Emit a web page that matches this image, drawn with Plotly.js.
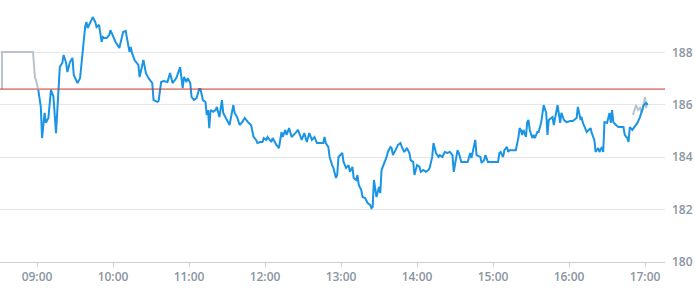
<!DOCTYPE html>
<html>
<head>
<meta charset="utf-8">
<script src="https://cdn.plot.ly/plotly-3.0.1.min.js"></script>
<style>html,body{margin:0;padding:0;background:#fff;}#chart{width:695px;height:300px;}</style>
</head>
<body>
<div id="chart"></div>
<script>
var DAY = '2024-01-02 ';
var prevClose = 186.6;

var preTimes = ['08:32:20','08:32:25','08:56:50','08:58:25','08:59:13','09:00:47'];
var preValues = [186.60, 188.02, 188.02, 187.02, 186.95, 186.62];

var postTimes = ['16:50:30','16:52:54','16:54:30','16:56:06','16:57:36','16:58:24','17:00:00','17:00:48','17:01:36'];
var postValues = [185.61, 185.99, 185.80, 185.88, 185.69, 185.92, 186.30, 185.88, 186.07];

var times = ['09:01','09:03','09:04','09:06','09:07','09:09','09:11','09:13','09:15','09:16','09:17','09:18','09:20','09:21','09:23','09:24','09:26','09:28','09:29','09:31','09:32','09:34','09:36','09:38','09:39','09:40','09:43','09:44','09:46','09:47','09:49','09:51','09:52','09:53','09:55','09:57','09:58',
'10:00','10:02','10:05','10:06','10:08','10:10','10:11','10:13','10:14','10:15','10:17','10:20','10:21','10:23','10:24','10:26','10:28','10:31','10:32','10:35','10:36','10:38','10:40','10:43','10:45','10:47','10:50','10:53','10:54','10:55','10:56','10:58','10:59',
'11:01','11:02','11:04','11:06','11:08','11:09','11:11','11:13','11:14','11:15','11:16','11:17','11:19','11:21','11:22','11:24','11:26','11:27','11:30','11:32','11:35','11:36','11:38','11:40','11:42','11:44','11:47','11:49','11:51','11:53','11:54','11:56','11:58','11:59',
'12:01','12:02','12:05','12:06','12:09','12:11','12:13','12:14','12:16','12:17','12:19','12:21','12:24','12:26','12:29','12:31','12:33','12:35','12:37','12:39','12:41','12:43','12:46','12:47','12:48','12:50','12:51','12:53','12:54','12:56','12:57','12:58',
'13:01','13:02','13:04','13:06','13:07','13:09','13:10','13:12','13:13','13:14','13:16','13:17','13:19','13:21','13:23','13:24','13:25','13:26','13:28','13:30','13:31','13:32','13:33','13:36','13:37','13:39','13:40','13:41','13:43','13:44','13:45','13:47','13:48','13:50','13:52','13:54','13:55','13:57','13:58',
'14:00','14:02','14:03','14:05','14:07','14:09','14:10','14:12','14:13','14:15','14:17','14:18','14:20','14:22','14:24','14:26','14:28','14:29','14:32','14:33','14:35','14:36','14:40','14:42','14:43','14:46','14:47','14:50','14:51','14:53','14:54','14:56','14:59',
'15:02','15:04','15:05','15:06','15:08','15:09','15:11','15:12','15:13','15:16','15:18','15:20','15:21','15:22','15:23','15:24','15:26','15:27','15:28','15:29','15:31','15:32','15:33','15:35','15:36','15:38','15:39','15:40','15:42','15:43','15:44','15:47','15:48','15:50','15:51','15:53','15:54','15:56','15:58',
'16:01','16:03','16:06','16:07','16:09','16:10','16:11','16:13','16:14','16:17','16:18','16:20','16:21','16:23','16:24','16:26','16:27','16:28','16:30','16:32','16:33','16:34','16:35','16:37','16:39','16:41','16:43','16:44','16:46','16:47','16:48','16:50','16:51','16:54','16:56','16:58','16:59',
'17:01','17:02'];

var values = [186.57,185.92,184.73,185.69,185.31,185.50,186.57,186.30,184.92,185.80,186.57,187.44,187.60,187.90,187.60,187.25,187.63,187.79,187.14,186.95,186.83,187.02,188.09,188.97,189.16,188.93,189.24,189.35,189.16,188.97,189.05,188.40,188.59,188.55,188.55,188.66,188.85,
188.59,188.40,188.17,188.36,188.78,188.82,188.55,188.02,188.21,187.98,187.71,187.52,187.06,187.44,187.71,187.21,187.02,186.83,186.18,186.11,186.15,186.87,186.91,186.87,187.21,186.83,187.02,187.44,187.02,186.64,187.06,186.87,187.02,
186.83,186.30,186.18,186.26,186.60,186.60,186.18,186.11,185.61,185.80,185.11,185.80,185.73,185.80,185.92,185.53,186.18,185.69,185.42,185.23,185.99,185.69,185.53,185.23,185.34,185.50,185.31,185.23,184.77,184.66,184.54,184.58,184.58,184.73,
184.66,184.77,184.58,184.73,184.47,184.35,184.96,184.77,185.04,184.85,185.11,184.77,184.92,185.04,184.66,184.92,184.58,184.92,184.66,184.77,184.54,184.54,184.54,184.77,184.54,184.39,184.01,183.70,183.59,183.21,183.32,184.01,
184.16,183.82,183.59,183.70,183.44,183.63,183.21,183.13,183.32,182.94,182.75,182.48,182.44,182.25,182.18,182.06,182.10,183.13,182.48,182.86,182.63,183.51,183.63,184.01,184.20,184.39,184.35,184.08,184.27,184.39,184.47,184.54,184.39,184.20,184.35,184.16,183.89,183.82,183.32,
183.70,183.63,183.44,183.51,183.44,183.51,183.59,184.01,184.54,184.16,184.01,184.08,184.01,184.20,184.16,184.20,184.08,183.44,184.27,184.16,183.82,183.82,183.82,184.16,183.97,184.66,184.08,184.01,183.78,183.89,184.08,183.82,183.82,
183.82,183.82,184.16,184.20,184.01,184.27,184.39,184.20,184.27,184.27,184.27,184.73,185.11,185.04,184.85,185.04,184.77,185.34,185.42,185.04,184.73,184.85,184.73,184.96,184.96,185.31,185.69,185.99,185.69,184.85,185.42,185.53,185.23,185.73,185.99,185.31,185.69,185.42,185.34,
185.38,185.38,185.50,185.92,185.46,185.50,185.31,185.04,184.96,185.11,184.92,184.66,184.20,184.35,184.20,184.39,184.20,185.34,185.31,185.69,185.31,185.80,185.34,185.23,185.15,185.15,185.15,184.85,184.73,184.58,185.15,185.04,185.11,185.31,185.53,185.80,185.99,
186.07,185.99];

var tickVals = ['09:00','10:00','11:00','12:00','13:00','14:00','15:00','16:00','17:00'];
var yTicks = [180,182,184,186,188];

function d(arr){ return arr.map(function(t){ return DAY + t; }); }

var traces = [
  {x: d(preTimes), y: preValues, type:'scatter', mode:'lines', line:{color:'#b9c3cd', width:2}, hoverinfo:'skip'},
  {x: d(postTimes), y: postValues, type:'scatter', mode:'lines', line:{color:'#b9c3cd', width:2}, hoverinfo:'skip'},
  {x: d(times), y: values, type:'scatter', mode:'lines', line:{color:'#1a94e4', width:2}}
];

var layout = {
  width:695, height:300,
  margin:{l:0, r:30, t:0, b:38, pad:0},
  paper_bgcolor:'#ffffff', plot_bgcolor:'#ffffff',
  showlegend:false,
  font:{family:'"Open Sans", sans-serif', size:12, color:'#8b95a1'},
  xaxis:{
    type:'date',
    range:[DAY+'08:30:47', DAY+'17:15:47'],
    tickvals:d(tickVals), ticktext:tickVals,
    showgrid:false, zeroline:false,
    showline:true, linecolor:'#c9d0d8', linewidth:1,
    ticks:'outside', ticklen:4, tickcolor:'#c9d0d8', tickwidth:1,
    tickfont:{family:'"Open Sans", sans-serif', size:12, color:'#8b95a1', weight:600}
  },
  yaxis:{
    side:'right',
    range:[180,190],
    tickvals:yTicks,
    showgrid:true, gridcolor:'#e3e6ea', gridwidth:1,
    zeroline:false, showline:false, ticks:'',
    ticklabelstandoff:6,
    tickfont:{family:'"Open Sans", sans-serif', size:12, color:'#8b95a1', weight:600}
  },
  shapes:[{type:'line', xref:'paper', x0:0, x1:1, yref:'y', y0:prevClose, y1:prevClose, line:{color:'#c8342c', width:1}}]
};

Plotly.newPlot('chart', traces, layout, {displayModeBar:false, staticPlot:true});
</script>
</body>
</html>
